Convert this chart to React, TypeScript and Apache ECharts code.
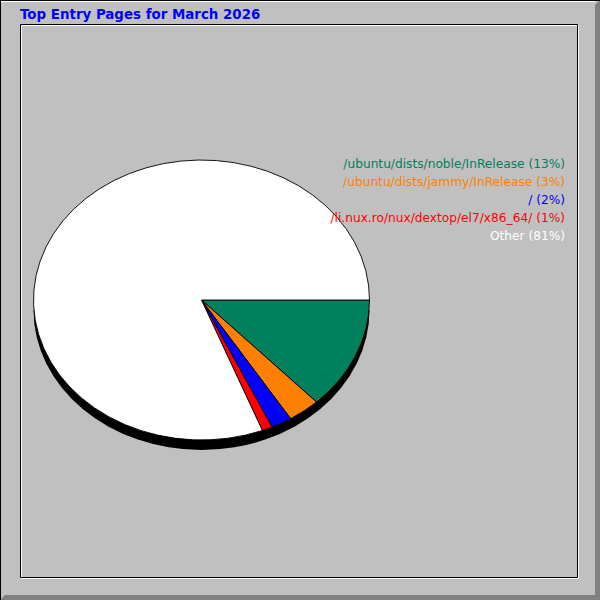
import React, { useEffect, useRef } from 'react';
import * as echarts from 'echarts';

// entry pages, their share of entries (%) and the slice colours
const pageNames = [
  '/ubuntu/dists/noble/InRelease',
  '/ubuntu/dists/jammy/InRelease',
  '/',
  '/li.nux.ro/nux/dextop/el7/x86_64/',
  'Other',
];
const pageShares = [13.0, 3.1, 2.0, 1.0, 80.9];
const sliceColors = ['#00805c', '#ff8000', '#0000ff', '#ff0000', '#ffffff'];
const chartTitle = 'Top Entry Pages for March 2026';

const FONT = '"DejaVu Sans", sans-serif';

const App: React.FC = () => {
  const frameRef = useRef<HTMLDivElement>(null);
  const pieRef = useRef<HTMLDivElement>(null);

  useEffect(() => {
    if (!frameRef.current || !pieRef.current) return;
    const frame = echarts.init(frameRef.current, null, { renderer: 'svg' });
    const pie = echarts.init(pieRef.current, null, { renderer: 'svg' });

    // legend lines, right aligned, in the slice colours
    const legendTexts = pageNames.map((name, i) => ({
      type: 'text',
      x: 565,
      y: 164 + i * 18,
      style: {
        text: `${name} (${Math.round(pageShares[i])}%)`,
        fill: sliceColors[i],
        font: `12.2px ${FONT}`,
        align: 'right',
        verticalAlign: 'middle',
      },
    }));

    // frame layer sits above the pie, so the legend is drawn over it
    frame.setOption({
      animation: false,
      graphic: [
        // outer bevel
        { type: 'polygon', shape: { points: [[595, 5], [600, 0], [600, 600], [595, 600]] }, style: { fill: '#808080' } },
        { type: 'polygon', shape: { points: [[0, 600], [5, 595], [600, 595], [600, 600]] }, style: { fill: '#808080' } },
        { type: 'rect', shape: { x: 0, y: 0, width: 1, height: 600 }, style: { fill: '#000' } },
        { type: 'rect', shape: { x: 0, y: 0, width: 600, height: 1 }, style: { fill: '#000' } },
        { type: 'rect', shape: { x: 1, y: 1, width: 594, height: 1 }, style: { fill: '#fff' } },
        // inner engraved frame
        { type: 'rect', shape: { x: 21.5, y: 25.5, width: 557, height: 553 }, style: { fill: 'none', stroke: '#fff', lineWidth: 1 } },
        { type: 'rect', shape: { x: 20.5, y: 24.5, width: 557, height: 553 }, style: { fill: 'none', stroke: '#000', lineWidth: 1 } },
        {
          type: 'text',
          x: 20,
          y: 14,
          style: {
            text: chartTitle,
            fill: '#0000ff',
            font: `bold 13.4px ${FONT}`,
            verticalAlign: 'middle',
          },
        },
        ...legendTexts,
      ],
    });

    // pie drawn as a circle, squashed into an ellipse by the div's transform
    pie.setOption({
      animation: false,
      series: [
        {
          // 3D edge: lower half of the disc, shifted down
          type: 'pie',
          silent: true,
          z: 1,
          center: [201.5, 312],
          radius: 168,
          startAngle: 0,
          clockwise: true,
          label: { show: false },
          labelLine: { show: false },
          data: [
            { value: 1, itemStyle: { color: '#000' } },
            { value: 1, itemStyle: { color: 'rgba(0,0,0,0)' } },
          ],
        },
        {
          type: 'pie',
          silent: true,
          z: 2,
          center: [201.5, 300],
          radius: 168,
          startAngle: 0,
          clockwise: true,
          label: { show: false },
          labelLine: { show: false },
          itemStyle: { borderColor: '#000', borderWidth: 1 },
          data: pageNames.map((name, i) => ({
            name,
            value: pageShares[i],
            itemStyle: { color: sliceColors[i] },
          })),
        },
      ],
    });

    return () => {
      frame.dispose();
      pie.dispose();
    };
  }, []);

  return (
    <div style={{ position: 'fixed', left: 0, top: 0, width: 600, height: 600, background: '#c0c0c0' }}>
      <div
        ref={pieRef}
        style={{
          position: 'absolute',
          left: 0,
          top: 0,
          width: 600,
          height: 600,
          transform: `scaleY(${140 / 168})`,
          transformOrigin: '0 300px',
        }}
      />
      <div ref={frameRef} style={{ position: 'absolute', left: 0, top: 0, width: 600, height: 600 }} />
    </div>
  );
};

export default App;
